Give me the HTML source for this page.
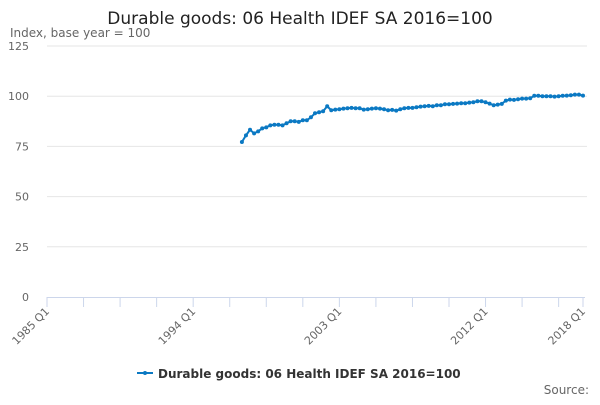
<!DOCTYPE html>
<html><head><meta charset="utf-8"><style>
body{margin:0;background:#fff;font-family:"Liberation Sans","DejaVu Sans",sans-serif;}
svg text{font-family:"DejaVu Sans","Liberation Sans",sans-serif;}
</style></head><body>
<svg id="c" width="600" height="400" xmlns="http://www.w3.org/2000/svg">
<text x="300" y="24" text-anchor="middle" font-size="17" fill="#222">Durable goods: 06 Health IDEF SA 2016=100</text>
<text x="10" y="37" font-size="12" fill="#666">Index, base year = 100</text>
<g id="grid"></g><g id="xax"></g><g id="series"></g>
<g>
<line x1="137" y1="373" x2="153" y2="373" stroke="#0b79c3" stroke-width="2"/>
<circle cx="145" cy="373" r="2" fill="#0b79c3"/>
<text x="158" y="378" font-size="12" font-weight="bold" fill="#333">Durable goods: 06 Health IDEF SA 2016=100</text>
</g>
<text x="589" y="394" text-anchor="end" font-size="12" fill="#666">Source:</text>
</svg>
<script>
const yTicks=[0,25,50,75,100,125];
const xLabels=["1985 Q1","1994 Q1","2003 Q1","2012 Q1","2018 Q1"];
const xLabelIdx=[0,36,72,108,132];
const startIdx=48;
const values=[77.2,80.5,83.3,81.5,82.5,84,84.5,85.5,85.8,85.8,85.5,86.5,87.5,87.5,87.2,88,88,89.5,91.5,92,92.5,95,93,93.3,93.5,93.8,94,94.2,94,94,93.3,93.5,93.8,94,93.8,93.5,93,93.2,92.8,93.5,94,94.2,94.2,94.5,94.8,95,95.2,95,95.5,95.5,96,96,96.2,96.3,96.5,96.5,96.8,97,97.5,97.5,97,96.3,95.5,95.8,96.2,97.8,98.3,98.2,98.5,98.8,98.8,99,100.2,100.2,100,100,100,99.8,100,100.2,100.3,100.5,100.8,100.8,100.3];
const NS="http://www.w3.org/2000/svg";
const x0=47,x1=583,nQ=132,y0=297,yTop=46;
const xs=q=>x0+(x1-x0)*q/nQ;
const ys=v=>y0-(y0-yTop)*v/125;
const mk=(t,a,p)=>{const e=document.createElementNS(NS,t);for(const k in a)e.setAttribute(k,a[k]);p.appendChild(e);return e;};
const grid=document.getElementById('grid');
yTicks.forEach(v=>{
 if(v>0){const l=mk('line',{x1:x0,x2:x1+4,y1:ys(v),y2:ys(v),stroke:'#e6e6e6'},grid);
 
 }
 const t=mk('text',{x:29,y:ys(v)+4,'text-anchor':'end','font-size':11,fill:'#666'},grid);t.textContent=v;
 
 
});
const xax=document.getElementById('xax');
const al=mk('line',{x1:x0,x2:x1+2,y1:y0+0.5,y2:y0+0.5,stroke:'#ccd6eb'},xax);


for(let q=0;q<=nQ;q+=9){mk('line',{x1:xs(q),x2:xs(q),y1:y0,y2:y0+10,stroke:'#ccd6eb'},xax);}
mk('line',{x1:xs(nQ),x2:xs(nQ),y1:y0,y2:y0+10,stroke:'#ccd6eb'},xax);
xLabels.forEach((s,i)=>{const x=xs(xLabelIdx[i])+3,y=y0+15;
 const t=mk('text',{x:x,y:y,'text-anchor':'end','font-size':11,fill:'#666',transform:`rotate(-45 ${x} ${y})`},xax);t.textContent=s;
 
 });
const ser=document.getElementById('series');
const pts=values.map((v,i)=>[xs(startIdx+i),ys(v)]);
const pl=mk('polyline',{points:pts.map(p=>p.join(',')).join(' '),fill:'none',stroke:'#0b79c3','stroke-width':2},ser);


pts.forEach(p=>{const c=mk('circle',{cx:p[0],cy:p[1],r:2,fill:'#0b79c3'},ser);
 
 });
</script>
</body></html>
